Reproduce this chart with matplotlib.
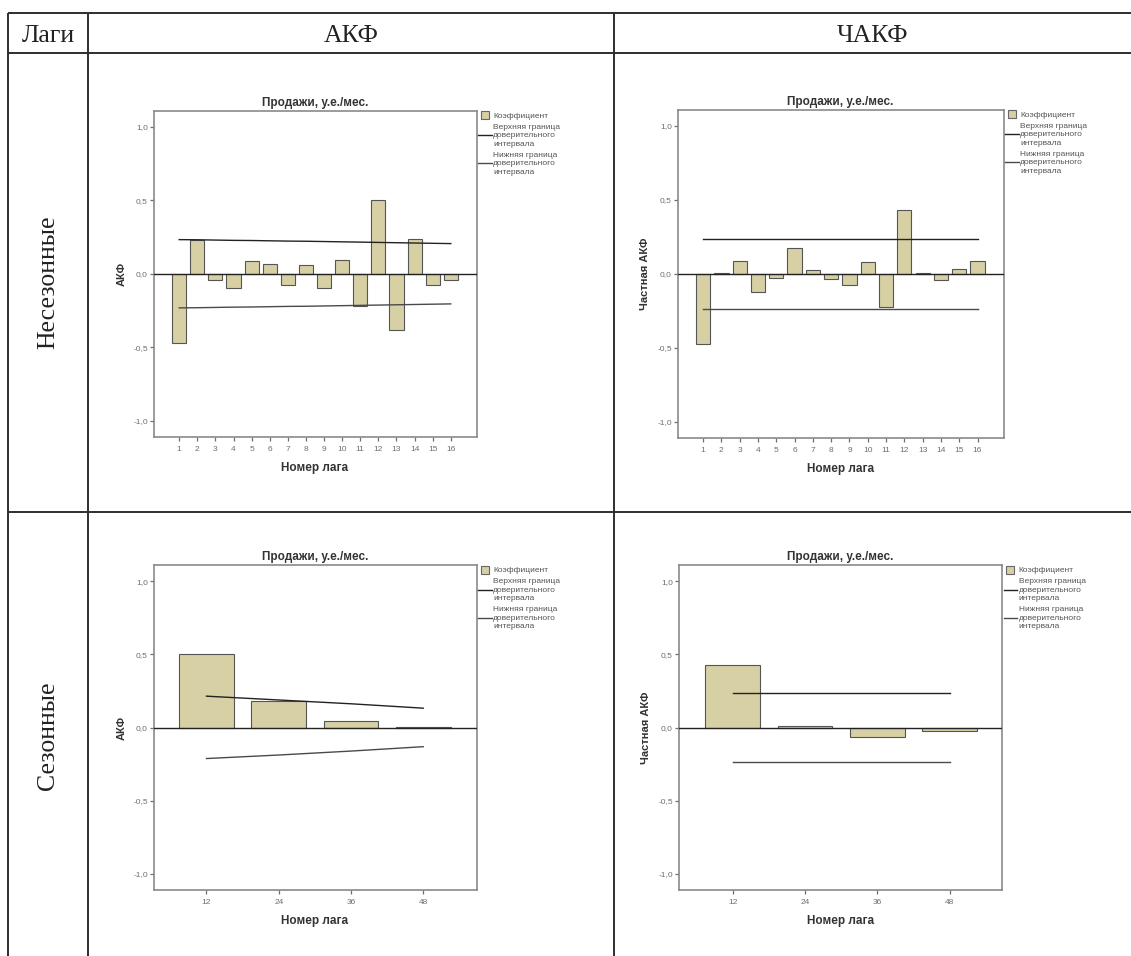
import matplotlib
matplotlib.use("Agg")
import matplotlib.pyplot as plt
from matplotlib.lines import Line2D

# ---------------- data ----------------
lags = list(range(1, 17))
acf_vals = [-0.470, 0.227, -0.045, -0.100, 0.084, 0.068, -0.075, 0.061,
            -0.095, 0.091, -0.220, 0.500, -0.380, 0.234, -0.075, -0.045]
acf_upper = [0.232, 0.231, 0.229, 0.227, 0.226, 0.224, 0.222, 0.221,
             0.219, 0.217, 0.215, 0.213, 0.211, 0.209, 0.207, 0.205]
acf_lower = [-v for v in acf_upper]

pacf_vals = [-0.474, 0.007, 0.084, -0.120, -0.027, 0.176, 0.023, -0.034,
             -0.074, 0.081, -0.226, 0.429, 0.007, -0.045, 0.029, 0.088]
pacf_upper = [0.238] * 16
pacf_lower = [-0.238] * 16

s_lags = [12, 24, 36, 48]
s_acf_vals = [0.502, 0.180, 0.043, 0.005]
s_acf_upper = [0.214, 0.188, 0.162, 0.132]
s_acf_lower = [-0.212, -0.188, -0.161, -0.131]
s_pacf_vals = [0.427, 0.011, -0.066, -0.027]
s_pacf_upper = [0.238, 0.238, 0.238, 0.238]
s_pacf_lower = [-0.238, -0.238, -0.238, -0.238]

yticks = [-1.0, -0.5, 0.0, 0.5, 1.0]
ytick_labels = ["-1,0", "-0,5", "0,0", "0,5", "1,0"]

title = "Продажи, у.е./мес."
xlab = "Номер лага"
legend_labels = ["Коэффициент",
                 "Верхняя граница\nдоверительного\nинтервала",
                 "Нижняя граница\nдоверительного\nинтервала"]
col_headers = ["Лаги", "АКФ", "ЧАКФ"]
row_headers = ["Несезонные", "Сезонные"]

# ---------------- styles ----------------
W, H = 1131, 956
BAR_FC = "#d6d0a4"
BAR_EC = "#555555"
SPINE = "#8a8a8a"
TICKC = "#6e6e6e"
TXT = "#333333"
SANS = ["Liberation Sans", "DejaVu Sans"]
SERIF = ["Liberation Serif", "DejaVu Serif"]

fig = plt.figure(figsize=(W / 100, H / 100), dpi=100)

# background axes for the table grid (pixel coordinates)
bg = fig.add_axes([0, 0, 1, 1], zorder=0)
bg.set_xlim(0, W)
bg.set_ylim(H, 0)
bg.axis("off")
LC = "#2e2e2e"
LW = 1.4
x0, xc1, xc2, xr = 8, 88, 614, W
y0, yh, yr = 12.7, 53.3, 512
for y in (y0, yh, yr):
    bg.plot([x0, xr], [y, y], color=LC, lw=LW, solid_capstyle="butt")
for x in (x0, xc1, xc2):
    bg.plot([x, x], [y0, H], color=LC, lw=LW, solid_capstyle="butt")

bg.text((x0 + xc1) / 2, 35.5, col_headers[0], ha="center", va="center",
        fontsize=18.5, family=SERIF, color="#222222")
bg.text((xc1 + xc2) / 2, 35.5, col_headers[1], ha="center", va="center",
        fontsize=18.5, family=SERIF, color="#222222")
bg.text((xc2 + xr) / 2, 35.5, col_headers[2], ha="center", va="center",
        fontsize=18.5, family=SERIF, color="#222222")
bg.text(48, 282.5, row_headers[0], ha="center", va="center", rotation=90,
        fontsize=18.5, family=SERIF, color="#222222")
bg.text(48, 736, row_headers[1], ha="center", va="center", rotation=90,
        fontsize=18.5, family=SERIF, color="#222222")


def px_axes(left, top, right, bottom):
    return fig.add_axes([left / W, 1 - bottom / H, (right - left) / W,
                         (bottom - top) / H], zorder=2)


def draw_panel(ax, x, vals, upper, lower, width, xlim, ylabel, ylabpad):
    ax.bar(x, vals, width=width, color=BAR_FC, edgecolor=BAR_EC,
           linewidth=0.8, zorder=2)
    ax.axhline(0, color="#222222", lw=1.0, zorder=3)
    ax.plot(x, upper, color="#222222", lw=1.0, zorder=4)
    ax.plot(x, lower, color="#4a4a4a", lw=1.0, zorder=4)
    ax.set_xlim(*xlim)
    ax.set_ylim(-1.11, 1.11)
    ax.set_yticks(yticks)
    ax.set_yticklabels(ytick_labels)
    ax.set_xticks(x)
    ax.set_xticklabels([str(v) for v in x])
    for sp in ax.spines.values():
        sp.set_color(SPINE)
        sp.set_linewidth(1.2)
    ax.tick_params(axis="y", direction="out", length=3.2, width=0.9,
                   color=TICKC, labelcolor=TICKC, labelsize=6, pad=0.8)
    ax.tick_params(axis="x", direction="out", length=3.0, width=0.9,
                   color=TICKC, labelcolor=TICKC, labelsize=6, pad=3.2)
    for lbl in ax.get_xticklabels() + ax.get_yticklabels():
        lbl.set_family(SANS)
    ax.set_title(title, fontsize=8.5, fontweight="bold", color=TXT,
                 family=SANS, pad=3.5)
    ax.set_xlabel(xlab, fontsize=8.5, fontweight="bold", color=TXT,
                  family=SANS, labelpad=6.5)
    ax.set_ylabel(ylabel, fontsize=8, fontweight="bold", color=TXT,
                  family=SANS, labelpad=ylabpad)
    handles = [
        Line2D([], [], linestyle="none", marker="s", markersize=6,
               markerfacecolor=BAR_FC, markeredgecolor="#666666",
               markeredgewidth=0.8),
        Line2D([], [], color="#222222", lw=1.0),
        Line2D([], [], color="#4a4a4a", lw=1.0),
    ]
    leg = ax.legend(handles, legend_labels, loc="upper left",
                    bbox_to_anchor=(1.0, 1.0), frameon=False,
                    prop={"family": SANS, "size": 6},
                    handlelength=1.6, handletextpad=0.2, labelspacing=0.45,
                    borderaxespad=0.0, borderpad=0.2)
    for t in leg.get_texts():
        t.set_color("#555555")
        t.set_linespacing(1.32)


ax1 = px_axes(153.5, 110.5, 476.5, 437)
draw_panel(ax1, lags, acf_vals, acf_upper, acf_lower, 0.78,
           (-0.42, 17.42), "АКФ", 5)
ax2 = px_axes(677.5, 109.5, 1003.5, 438)
draw_panel(ax2, lags, pacf_vals, pacf_upper, pacf_lower, 0.78,
           (-0.40, 17.42), "Частная АКФ", 5)
ax3 = px_axes(153.5, 565, 476.5, 890)
draw_panel(ax3, s_lags, s_acf_vals, s_acf_upper, s_acf_lower, 9.1,
           (3.2, 56.85), "АКФ", 5)
ax4 = px_axes(678.5, 565, 1002, 890)
draw_panel(ax4, s_lags, s_pacf_vals, s_pacf_upper, s_pacf_lower, 9.1,
           (3.0, 56.7), "Частная АКФ", 5)

fig.savefig("out.png", dpi=100)
